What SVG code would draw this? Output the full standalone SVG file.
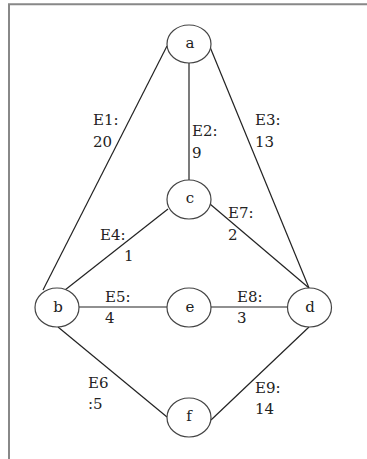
<svg xmlns="http://www.w3.org/2000/svg" width="367" height="459" viewBox="0 0 367 459">
<style>
.node ellipse{fill:#fff;stroke:#444;stroke-width:1.2}
.node text{font-family:"DejaVu Serif","Liberation Serif",serif;font-size:15px;fill:#222;text-anchor:middle}
.edges line{stroke:#222;stroke-width:1.2}
.lbl{font-family:"DejaVu Serif","Liberation Serif",serif;font-size:15px;fill:#222}
</style>
<rect width="367" height="459" fill="#fff"/>
<path d="M9 459 V4.3 H367" fill="none" stroke="#888" stroke-width="2"/>
<g class="edges" id="edges">
<line x1="167" y1="46" x2="43" y2="290"/>
<line x1="189" y1="63" x2="189" y2="180"/>
<line x1="210" y1="47" x2="309" y2="288"/>
<line x1="168" y1="209" x2="65" y2="290"/>
<line x1="210" y1="204" x2="309" y2="288"/>
<line x1="79" y1="307" x2="167" y2="307"/>
<line x1="211" y1="307" x2="287" y2="307"/>
<line x1="58" y1="327" x2="167" y2="417"/>
<line x1="211" y1="420" x2="309" y2="327"/>
</g>
<g class="lbl" id="edge-labels">
<text x="93" y="125">E1:</text><text x="93" y="147">20</text>
<text x="192" y="136">E2:</text><text x="192" y="158">9</text>
<text x="255" y="125">E3:</text><text x="255" y="147">13</text>
<text x="100" y="240">E4:</text><text x="124" y="261">1</text>
<text x="105" y="302">E5:</text><text x="105" y="323">4</text>
<text x="88" y="388">E6</text><text x="88" y="409">:5</text>
<text x="228" y="218">E7:</text><text x="228" y="240">2</text>
<text x="237" y="302">E8:</text><text x="237" y="323">3</text>
<text x="255" y="393">E9:</text><text x="255" y="414">14</text>
</g>
<g class="node" id="node-a"><ellipse cx="189" cy="44" rx="22" ry="19"/><text x="190" y="48">a</text></g>
<g class="node" id="node-c"><ellipse cx="189" cy="199.5" rx="22" ry="19.5"/><text x="190" y="203">c</text></g>
<g class="node" id="node-b"><ellipse cx="57" cy="307.5" rx="22" ry="19.5"/><text x="58" y="312">b</text></g>
<g class="node" id="node-e"><ellipse cx="189" cy="307.5" rx="22" ry="19.5"/><text x="190" y="312">e</text></g>
<g class="node" id="node-d"><ellipse cx="309.5" cy="307.5" rx="22" ry="19.5"/><text x="310" y="312">d</text></g>
<g class="node" id="node-f"><ellipse cx="189" cy="417.5" rx="22" ry="19.5"/><text x="189" y="421">f</text></g>
</svg>
